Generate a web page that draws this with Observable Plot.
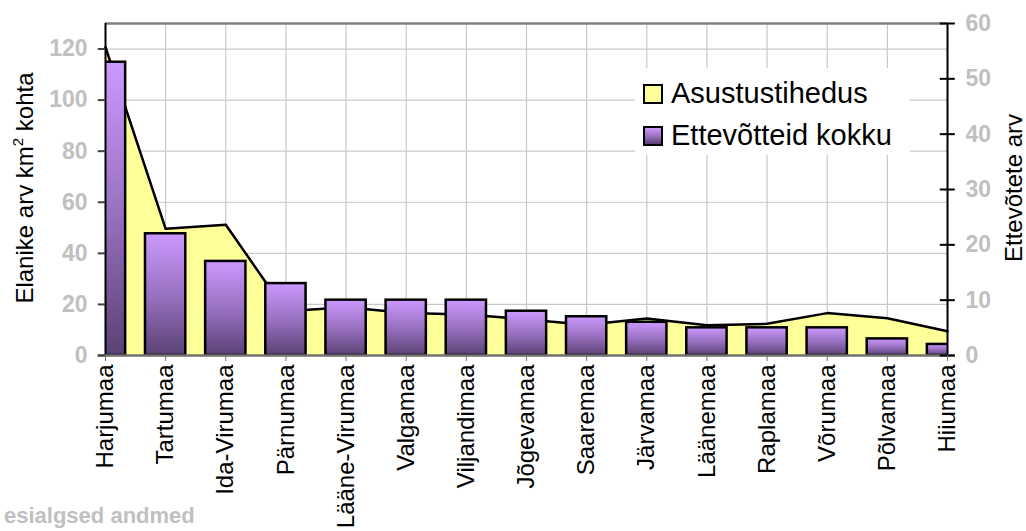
<!DOCTYPE html>
<html>
<head>
<meta charset="utf-8">
<script src="https://cdn.jsdelivr.net/npm/d3@7"></script>
<script src="https://cdn.jsdelivr.net/npm/@observablehq/plot@0.6"></script>
<style>
  html, body { margin: 0; padding: 0; background: white; overflow: hidden; }
  #wrap { position: relative; width: 1026px; height: 531px; overflow: hidden; }
  #legend { position: absolute; left: 635px; top: 68px; width: 275px; height: 87px; background: white;
    font-family: "Liberation Sans", Arial, sans-serif; font-size: 29px; color: black; }
  .item { position: absolute; left: 8px; display: flex; align-items: center; white-space: nowrap; }
  .sw { width: 16px; height: 16px; border: 2px solid black; margin-right: 8px; }
  #foot { position: absolute; left: 4px; top: 504px; font-family: "Liberation Sans", Arial, sans-serif;
    font-weight: bold; font-size: 22px; line-height: 24px; color: #c0c0c0; white-space: nowrap; }
</style>
</head>
<body>
<div id="wrap"></div>
<script>
const counties = ["Harjumaa","Tartumaa","Ida-Virumaa","Pärnumaa","Lääne-Virumaa","Valgamaa","Viljandimaa","Jõgevamaa","Saaremaa","Järvamaa","Läänemaa","Raplamaa","Võrumaa","Põlvamaa","Hiiumaa"];
const density = [120.7, 49.6, 51.2, 17.3, 18.9, 16.6, 16.1, 14.1, 12.0, 14.5, 11.8, 12.4, 16.6, 14.6, 9.5];
const enterprises = [53, 22, 17, 13, 10, 10, 10, 8, 7, 6, 5, 5, 5, 3, 2];
const leftTicks = [0, 20, 40, 60, 80, 100, 120];
const rightTicks = [0, 10, 20, 30, 40, 50, 60];
const seriesNames = ["Asustustihedus", "Ettevõtteid kokku"];
const leftTitle = "Elanike arv km";
const leftTitleSup = "2";
const leftTitleEnd = " kohta";
const rightTitle = "Ettevõtete arv";
const footnote = "esialgsed andmed";

const leftMax = 130, rightMax = 60, k = leftMax / rightMax;
const data = counties.map((c, i) => ({i, county: c, density: density[i], ent: enterprises[i]}));
const idx = d3.range(counties.length);
const last = counties.length - 1;
const font = "'Liberation Sans', Arial, sans-serif";

const chart = Plot.plot({
  width: 1026, height: 531,
  marginLeft: 105, marginRight: 79, marginTop: 23, marginBottom: 176,
  x: {type: "linear", domain: [0, last]},
  y: {domain: [0, leftMax]},
  style: {fontFamily: font, background: "white", overflow: "visible"},
  marks: [
    Plot.gridY(leftTicks, {stroke: "#c8c8c8", strokeOpacity: 1, strokeWidth: 1.2}),
    Plot.gridX(idx, {stroke: "#c8c8c8", strokeOpacity: 1, strokeWidth: 1.2}),
    Plot.areaY(data, {x: "i", y: "density", fill: "#ffff99"}),
    Plot.lineY(data, {x: "i", y: "density", stroke: "black", strokeWidth: 2.5}),
    Plot.rect(data, {x1: d => d.i - 0.335, x2: d => d.i + 0.335, y1: 0, y2: d => d.ent * k,
      fill: "url(#barGrad)", stroke: "black", strokeWidth: 2.5, clip: true}),
    Plot.ruleY([leftMax], {stroke: "#808080", strokeWidth: 2.5}),
    Plot.ruleX([0], {stroke: "black", strokeWidth: 2}),
    Plot.ruleX([last], {stroke: "black", strokeWidth: 2}),
    Plot.ruleY([0], {x1: -0.12, x2: last + 0.13, stroke: "#707070", strokeWidth: 2.5}),
    Plot.ruleY(rightTicks.map(v => v * k), {x1: last - 0.12, x2: last + 0.13, stroke: "black", strokeWidth: 2}),
    Plot.ruleY(leftTicks, {x1: -0.12, x2: 0, stroke: "#404040", strokeWidth: 2}),
    Plot.axisY(leftTicks, {anchor: "left", tickSize: 0, tickPadding: 18, fontSize: 23, fill: "#c0c0c0", label: null}),
    Plot.axisY(rightTicks.map(v => v * k), {anchor: "right", tickSize: 0, tickPadding: 18, fontSize: 23, fill: "#c0c0c0",
      tickFormat: d => String(Math.round(d / k)), label: null}),
    Plot.axisX(idx, {anchor: "bottom", tickSize: 6, tickPadding: 3, tickRotate: -90, fontSize: 24, fill: "black", stroke: "#707070",
      tickFormat: i => counties[i], label: null})
  ]
});

const svg = d3.select(chart);
const defs = svg.insert("defs", ":first-child");
const g = defs.append("linearGradient").attr("id", "barGrad").attr("x1", 0).attr("y1", 0).attr("x2", 0).attr("y2", 1);
g.append("stop").attr("offset", "0%").attr("stop-color", "#cc99ff");
g.append("stop").attr("offset", "50%").attr("stop-color", "#9a72c2");
g.append("stop").attr("offset", "100%").attr("stop-color", "#5a4274");

svg.selectAll("g[aria-label='y-axis tick label'] text").attr("font-weight", "bold");
svg.selectAll("g[aria-label='y-axis tick label']").attr("font-weight", "bold").attr("fill", "#c0c0c0");
svg.selectAll("g[aria-label='x-axis tick label']").attr("fill", "black");

const lt = svg.append("text").attr("transform", "translate(33,188) rotate(-90)").attr("text-anchor", "middle")
  .attr("font-size", 24).attr("font-family", font).attr("fill", "black");
lt.append("tspan").text(leftTitle);
lt.append("tspan").attr("font-size", 15).attr("dy", "-0.7em").text(leftTitleSup);
lt.append("tspan").attr("dy", "0.45em").text(leftTitleEnd);
svg.append("text").attr("transform", "translate(1022,188) rotate(-90)").attr("text-anchor", "middle")
  .attr("font-size", 24).attr("font-family", font).attr("fill", "black").text(rightTitle);

const wrap = document.getElementById("wrap");
wrap.appendChild(chart);

const legend = document.createElement("div");
legend.id = "legend";
const swatches = ["#ffff99", "linear-gradient(#cc99ff, #9a72c2, #5a4274)"];
seriesNames.forEach((n, j) => {
  const it = document.createElement("div");
  it.className = "item";
  it.style.top = (j === 0 ? 9 : 51) + "px";
  const sw = document.createElement("div");
  sw.className = "sw";
  sw.style.background = swatches[j];
  const t = document.createElement("span");
  t.textContent = n;
  it.appendChild(sw); it.appendChild(t);
  legend.appendChild(it);
});
wrap.appendChild(legend);

const foot = document.createElement("div");
foot.id = "foot";
foot.textContent = footnote;
wrap.appendChild(foot);
</script>
</body>
</html>
